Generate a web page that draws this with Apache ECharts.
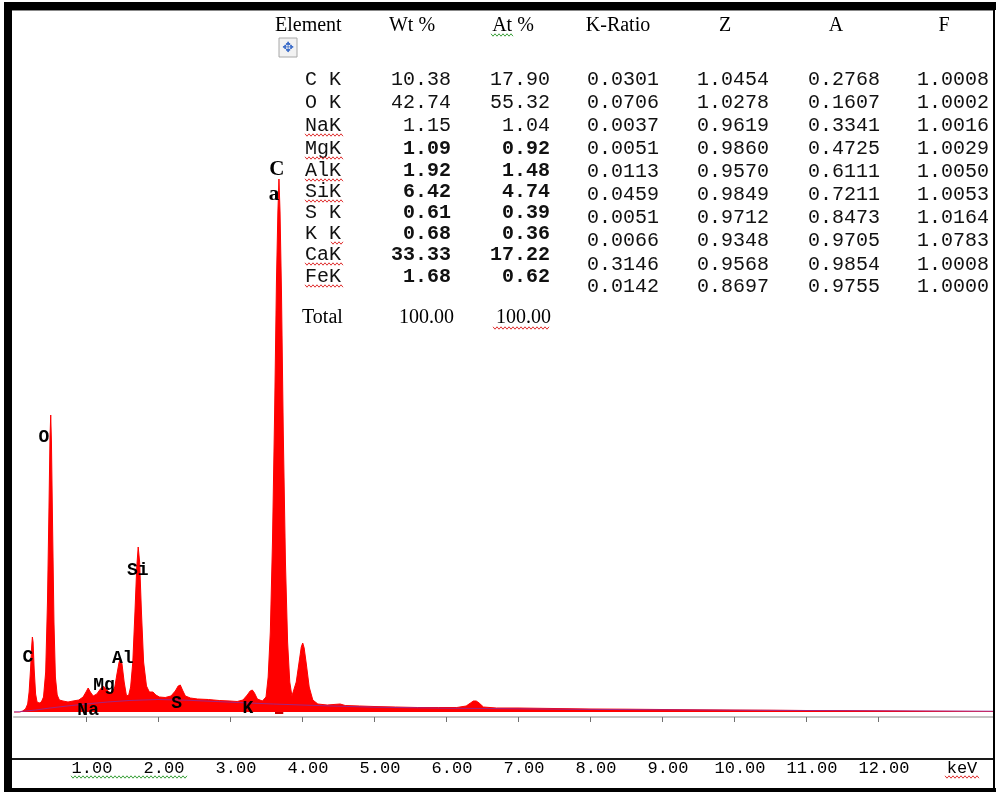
<!DOCTYPE html>
<html><head><meta charset="utf-8">
<script src="https://cdn.jsdelivr.net/npm/echarts@6/dist/echarts.min.js"></script>
<style>html,body{margin:0;padding:0;background:#fff}#c{width:996px;height:794px}</style>
</head><body><div id="c"></div>
<script>
// ---------------- DATA ----------------
const spectrumKeV = [0.00,0.08,0.12,0.16,0.19,0.21,0.23,0.245,0.255,0.265,0.28,0.30,0.32,0.35,0.38,0.41,0.44,0.465,0.485,0.50,0.51,0.52,0.535,0.555,0.575,0.60,0.63,0.68,0.75,0.82,0.90,0.96,1.00,1.03,1.06,1.10,1.15,1.20,1.24,1.28,1.32,1.36,1.40,1.43,1.46,1.48,1.50,1.53,1.56,1.59,1.62,1.65,1.68,1.705,1.725,1.745,1.77,1.80,1.84,1.88,1.93,1.97,2.02,2.10,2.18,2.24,2.28,2.31,2.34,2.38,2.45,2.55,2.70,2.85,3.00,3.10,3.18,3.24,3.28,3.31,3.34,3.38,3.45,3.50,3.53,3.56,3.59,3.62,3.645,3.665,3.68,3.695,3.715,3.74,3.77,3.80,3.83,3.86,3.88,3.92,3.96,3.99,4.01,4.03,4.06,4.10,4.15,4.22,4.35,4.53,4.60,4.80,5.00,5.30,5.60,5.90,6.15,6.28,6.34,6.38,6.42,6.46,6.52,6.70,7.00,7.50,8.00,8.50,9.00,9.50,10.00,10.50,11.00,11.50,12.00,12.50,13.00,13.60];
const spectrumCounts = [0,0,10,30,80,200,430,650,750,700,430,180,100,90,100,150,400,1100,2000,2750,2970,2700,1900,900,350,170,120,110,100,110,120,150,200,240,200,160,180,230,260,230,200,190,250,380,500,530,480,300,170,160,250,500,1000,1450,1650,1500,1000,500,260,200,200,170,150,145,160,210,260,270,220,160,140,130,125,115,110,105,120,170,210,220,190,130,110,150,350,800,1700,3000,4300,5000,5330,5000,4200,2800,1500,700,300,160,170,300,500,650,690,640,480,250,120,80,70,80,65,60,55,50,45,45,45,60,90,110,110,90,50,40,40,35,30,28,25,22,20,18,15,14,12,10,8,6];
const backgroundKeV = [0,0.1,0.3,0.5,0.8,1.0,1.3,1.6,2.0,2.4,2.8,3.2,3.6,4.0,4.5,5.0,6.0,7.0,8.0,9.0,10.0,11.0,12.0,13.6];
const backgroundCounts = [0,5,20,40,65,80,100,115,125,118,105,92,80,70,58,48,38,32,26,22,18,15,12,8];
const peakNames = ['C','O','Na','Mg','Al','Si','S','K','Fe'];
const peakLabelKeV = [0.194,0.417,1.03,1.25,1.51,1.72,2.26,3.25,6.47];
const peakLabelCounts = [550,2750,20,270,540,1420,90,40,-70];
const caLabelParts = ['C','a'];
const caLabelKeV = [3.65,3.61];
const caLabelCounts = [5420,5170];
const tickValues = [1,2,3,4,5,6,7,8,9,10,11,12];
const axisUnit = 'keV';

const tableHeaders = ['Element','Wt %','At %','K-Ratio','Z','A','F'];
const elements = ['C K','O K','NaK','MgK','AlK','SiK','S K','K K','CaK','FeK'];
const wtPct = ['10.38','42.74','1.15','1.09','1.92','6.42','0.61','0.68','33.33','1.68'];
const atPct = ['17.90','55.32','1.04','0.92','1.48','4.74','0.39','0.36','17.22','0.62'];
const kRatio = ['0.0301','0.0706','0.0037','0.0051','0.0113','0.0459','0.0051','0.0066','0.3146','0.0142'];
const zFactor = ['1.0454','1.0278','0.9619','0.9860','0.9570','0.9849','0.9712','0.9348','0.9568','0.8697'];
const aFactor = ['0.2768','0.1607','0.3341','0.4725','0.6111','0.7211','0.8473','0.9705','0.9854','0.9755'];
const fFactor = ['1.0008','1.0002','1.0016','1.0029','1.0050','1.0053','1.0164','1.0783','1.0008','1.0000'];
const totalRow = ['Total','100.00','100.00'];

// ---------------- LAYOUT ----------------
const MONO = "'Liberation Mono','Courier New',monospace";
const SERIF = "'Liberation Serif','Times New Roman',serif";
const leftRowsY = [80,103,126,149,171,192,213,234,255,277];
const rightRowsY = [80,103,126,149,172,195,218,241,265,287];
const headerX = [275,412,513,618,725,836,944];
const headerAlign = ['left','center','center','center','center','center','center'];

const chart = echarts.init(document.getElementById('c'), null, {renderer:'canvas'});
const g = [];
function txt(x,y,t,font,align,fill){
  g.push({type:'text', z:50, style:{x:x,y:y,text:t,font:font,align:align||'left',verticalAlign:'middle',fill:fill||'#000'}});
}
function squiggle(x1,x2,y,color){
  const pts=[]; let up=true;
  for(let x=x1;x<=x2;x+=2){pts.push([x,y+(up?-1.2:1.2)]);up=!up;}
  g.push({type:'polyline', z:51, shape:{points:pts}, style:{stroke:color,lineWidth:1,fill:null}});
}
// frame
g.push({type:'rect', z:60, shape:{x:4,y:2,width:992,height:8}, style:{fill:'#000'}});
g.push({type:'rect', z:60, shape:{x:4,y:2,width:8,height:790}, style:{fill:'#000'}});
g.push({type:'rect', z:60, shape:{x:993,y:2,width:2,height:790}, style:{fill:'#000'}});
g.push({type:'rect', z:60, shape:{x:4,y:788,width:992,height:4}, style:{fill:'#000'}});
g.push({type:'rect', z:60, shape:{x:12,y:758,width:981,height:2}, style:{fill:'#1a1a1a'}});
g.push({type:'rect', z:60, shape:{x:12,y:10,width:981,height:1}, style:{fill:'#888'}});

// table headers
tableHeaders.forEach((h,i)=>txt(headerX[i],26,h,'20px '+SERIF,headerAlign[i]));
// move icon
g.push({type:'rect', z:50, shape:{x:279,y:38,width:18,height:19}, style:{fill:'#f2f2f2',stroke:'#a8a8a8',lineWidth:1}});
txt(288,48,'\u2725','14px DejaVu Sans','center','#3a6bc8');
// rows
elements.forEach((e,i)=>{
  const bold = i>=3 ? 'bold ' : '';
  txt(305,leftRowsY[i],e,'20px '+MONO,'left','#111');
  txt(451,leftRowsY[i],wtPct[i],bold+'20px '+MONO,'right','#111');
  txt(550,leftRowsY[i],atPct[i],bold+'20px '+MONO,'right','#111');
  txt(587,rightRowsY[i],kRatio[i],'20px '+MONO,'left','#111');
  txt(697,rightRowsY[i],zFactor[i],'20px '+MONO,'left','#111');
  txt(808,rightRowsY[i],aFactor[i],'20px '+MONO,'left','#111');
  txt(917,rightRowsY[i],fFactor[i],'20px '+MONO,'left','#111');
});
txt(302,318,totalRow[0],'20px '+SERIF,'left');
txt(454,318,totalRow[1],'20px '+SERIF,'right');
txt(551,318,totalRow[2],'20px '+SERIF,'right');
// spell-check squiggles
const RED='#e03030', GREEN='#3aa03a';
[2,3,4,5,8,9].forEach(i=>squiggle(305,343,leftRowsY[i]+9,RED));
squiggle(331,343,leftRowsY[7]+9,RED);
squiggle(493,550,328,RED);
squiggle(491,513,35,GREEN);
squiggle(71,187,777,GREEN);
squiggle(945,979,777,RED);
// axis unit
txt(962,768,axisUnit,'17px '+MONO,'center','#000');

const spectrum = spectrumKeV.map((e,i)=>[e,spectrumCounts[i]]);
const background = backgroundKeV.map((e,i)=>[e,backgroundCounts[i]]);
const labels = peakNames.map((n,i)=>({value:[peakLabelKeV[i],peakLabelCounts[i],n]}));
caLabelParts.forEach((n,i)=>labels.push({value:[caLabelKeV[i],caLabelCounts[i],n],
  label:{fontFamily:SERIF,fontWeight:'bold',fontSize:21}}));

chart.setOption({
  animation:false,
  backgroundColor:'#fff',
  grid:{left:14,right:2.8,top:17,bottom:77},
  xAxis:{type:'value',min:0,max:13.6,
    axisLine:{onZero:false,lineStyle:{color:'#c4c4c4',width:2}},
    axisTick:{show:true,customValues:tickValues,length:5,lineStyle:{color:'#707070',width:1}},
    axisLabel:{customValues:tickValues,formatter:v=>Number(v).toFixed(2),margin:43,
      fontFamily:MONO,fontSize:17,color:'#000',padding:[0,0,0,12]},
    splitLine:{show:false}},
  yAxis:{type:'value',min:-50,max:6950,show:false,splitLine:{show:false}},
  series:[
    {type:'line',data:spectrum,showSymbol:false,z:2,
      lineStyle:{color:'#ff0000',width:1},areaStyle:{color:'#ff0000',opacity:1,origin:0},
      markArea:{silent:true,itemStyle:{color:'#c80000'},data:[[{xAxis:3.625,yAxis:-20},{xAxis:3.74,yAxis:60}]]}},
    {type:'line',data:background,showSymbol:false,z:3,lineStyle:{color:'rgba(70,70,255,0.5)',width:1}},
    {type:'scatter',data:labels,symbolSize:1,z:10,itemStyle:{color:'rgba(0,0,0,0)'},
      label:{show:true,position:'inside',formatter:p=>p.value[2],fontFamily:MONO,fontWeight:'bold',fontSize:18,
        color:'#000',opacity:1,textBorderWidth:0,textBorderColor:'rgba(0,0,0,0)'}}
  ],
  graphic:g
});
</script></body></html>
